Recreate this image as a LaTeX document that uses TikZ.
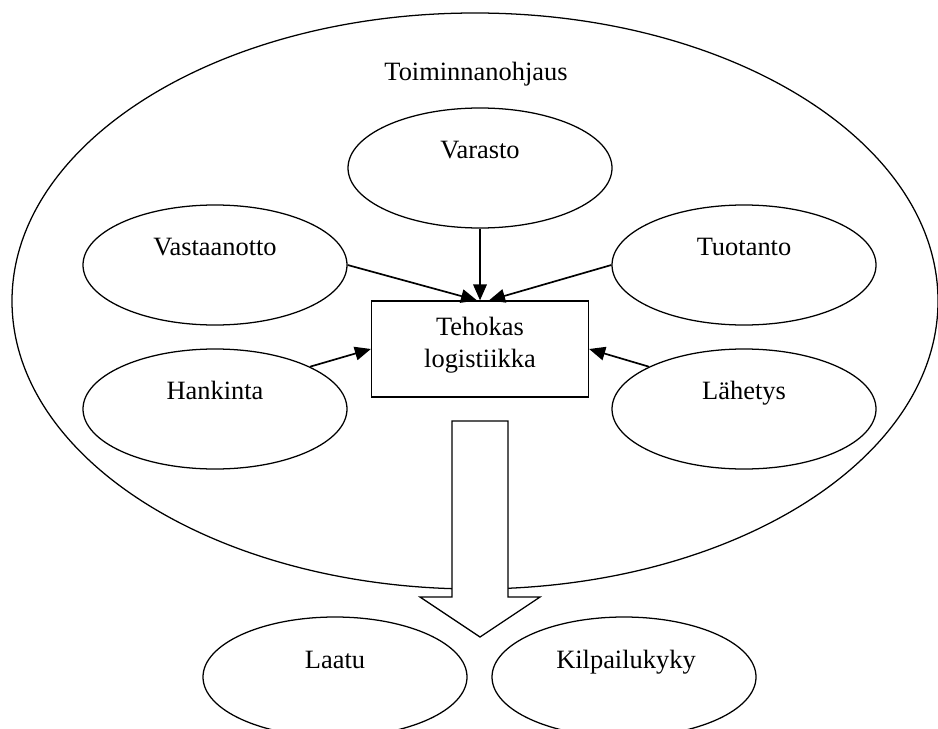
\documentclass[tikz,border=0pt]{standalone}
\usepackage{fontspec}
\setmainfont{Liberation Serif}
\usetikzlibrary{shapes.geometric,arrows.meta,calc}

\begin{document}
\begin{tikzpicture}[line width=0.9pt,
  oval/.style={shape=ellipse,draw,inner sep=0pt,minimum width=6.6cm,minimum height=3cm},
  lbl/.style={anchor=base,font=\fontsize{18.8}{22.7}\selectfont},
  pil/.style={-{Triangle[length=0.4cm,width=0.34cm]},line width=1.2pt}]
\useasboundingbox (0,0) rectangle (23.45,18.2);
\draw (11.875,10.675) ellipse [x radius=11.575, y radius=7.2];
\node[lbl] (toim) at (11.9,16.175) {Toiminnanohjaus};
\node[oval] (varasto) at (12,14) {};
\node[oval] (vastaanotto) at (5.375,11.575) {};
\node[oval] (tuotanto) at (18.6,11.575) {};
\node[oval] (hankinta) at (5.375,7.975) {};
\node[oval] (lahetys) at (18.6,7.975) {};
\node[lbl] (varastoT) at (12,14.225) {Varasto};
\node[lbl] (vastaanottoT) at (5.375,11.825) {Vastaanotto};
\node[lbl] (tuotantoT) at (18.6,11.825) {Tuotanto};
\node[lbl] (hankintaT) at (5.375,8.225) {Hankinta};
\node[lbl] (lahetysT) at (18.6,8.225) {Lähetys};
\node[draw,minimum width=5.425cm,minimum height=2.4cm] (box) at (12,9.475) {};
\node[lbl,anchor=center,align=center] (boxT) at (12,9.575) {Tehokas\\logistiikka};
\draw[pil] (varasto.south) -- (box.north);
\draw[pil] (vastaanotto.east) -- ($(box.north)+(-0.075,0)$);
\draw[pil] (tuotanto.west) -- ($(box.north)+(0.225,0)$);
\draw[pil] (hankinta.24) -- (box.west);
\draw[pil] (lahetys.156) -- (box.east);
\draw[fill=white] (11.3,7.675) -- (12.7,7.675) -- (12.7,3.275) -- (13.5,3.275)
  -- (12,2.275) -- (10.5,3.275) -- (11.3,3.275) -- cycle;
\node[oval] (laatu) at (8.375,1.275) {};
\node[oval] (kilpailu) at (15.6,1.275) {};
\node[lbl] (laatuT) at (8.375,1.5) {Laatu};
\node[lbl] (kilpailuT) at (15.65,1.5) {Kilpailukyky};
\end{tikzpicture}
\end{document}
